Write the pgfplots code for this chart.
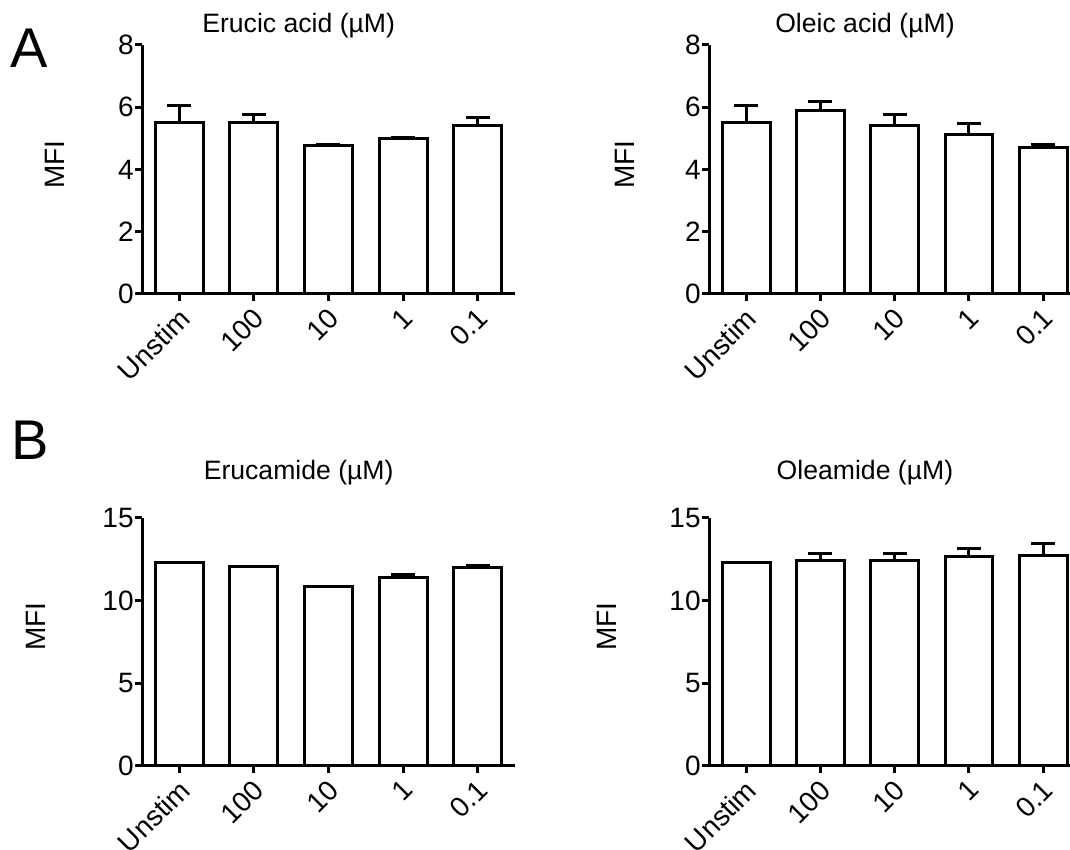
\documentclass[border=0pt]{standalone}
\usepackage{fontspec}
\setmainfont{Liberation Sans}
\usepackage{pgfplots}
\pgfplotsset{compat=1.18}

\pgfplotstableread{
x y e
0 5.52 0.52
1 5.51 0.27
2 4.77 0.03
3 5.00 0.04
4 5.42 0.26
}\erucicacid
\pgfplotstableread{
x y e
0 5.52 0.52
1 5.88 0.32
2 5.42 0.36
3 5.12 0.35
4 4.70 0.09
}\oleicacid
\pgfplotstableread{
x y e
0 12.28 0.03
1 12.02 0.03
2 10.81 0.03
3 11.37 0.17
4 11.96 0.16
}\erucamide
\pgfplotstableread{
x y e
0 12.26 0.03
1 12.43 0.40
2 12.43 0.40
3 12.63 0.48
4 12.73 0.70
}\oleamide

\pgfplotsset{
  panel/.style={
    scale only axis,
    axis x line*=bottom, axis y line*=left,
    axis line style={line width=1.5pt, -},
    every tick/.style={line width=1.5pt, black},
    tick align=outside,
    major tick length=3.5pt,
    enlargelimits=false,
    ymin=0,
    xmin=-0.5,
    xtick={0,1,2,3,4},
    xticklabels={Unstim,100,10,1,0.1},
    x tick label style={rotate=45, anchor=north east, inner sep=1pt, xshift=-1.5pt, font=\fontsize{14}{16}\selectfont},
    y tick label style={font=\fontsize{14}{16}\selectfont, inner sep=0.5pt},
    /pgf/number format/assume math mode=true,
    title style={font=\fontsize{13.3}{15}\selectfont, anchor=base},
    ylabel={MFI},
    ylabel style={font=\fontsize{14}{16}\selectfont, anchor=center},
    clip=true,
  },
  mybar/.style={
    ybar, bar width=0.645, fill=white, draw=black, line width=1.5pt,
    error bars/.cd, y dir=plus, y explicit,
    error bar style={line width=1.5pt, black},
    error mark options={rotate=90, mark size=6pt, line width=1.5pt, black},
  },
}

\begin{document}
\begin{tikzpicture}
\path[use as bounding box] (0,0) rectangle (535pt,425pt);

% Panel A left
\begin{axis}[panel, at={(71pt,278pt)}, anchor=south west,
  width=186.5pt, height=124.5pt, xmax=4.5, ymax=8, ytick={0,2,4,6,8},
  title={Erucic acid (µM)},
  title style={at={(axis description cs:0.42,1)}, yshift=0pt},
  ylabel style={at={(axis description cs:-0.233,0.52)}}]
\addplot[mybar] table[x=x, y=y, y error=e] {\erucicacid};
\end{axis}

% Panel A right
\begin{axis}[panel, at={(354.5pt,278pt)}, anchor=south west,
  width=180.5pt, height=124.5pt, xmax=4.36, ymax=8, ytick={0,2,4,6,8},
  title={Oleic acid (µM)},
  title style={at={(axis description cs:0.432,1)}, yshift=0pt},
  ylabel style={at={(axis description cs:-0.233,0.52)}}]
\addplot[mybar] table[x=x, y=y, y error=e] {\oleicacid};
\end{axis}

% Panel B left
\begin{axis}[panel, at={(71pt,42.15pt)}, anchor=south west,
  width=186.5pt, height=124pt, xmax=4.5, ymax=15, ytick={0,5,10,15},
  title={Erucamide (µM)},
  title style={at={(axis description cs:0.42,1)}, yshift=12.85pt},
  ylabel style={at={(axis description cs:-0.284,0.56)}}]
\addplot[mybar] table[x=x, y=y, y error=e] {\erucamide};
\end{axis}

% Panel B right
\begin{axis}[panel, at={(354.5pt,42.15pt)}, anchor=south west,
  width=180.5pt, height=124pt, xmax=4.36, ymax=15, ytick={0,5,10,15},
  title={Oleamide (µM)},
  title style={at={(axis description cs:0.432,1)}, yshift=12.85pt},
  ylabel style={at={(axis description cs:-0.284,0.56)}}]
\addplot[mybar] table[x=x, y=y, y error=e] {\oleamide};
\end{axis}

\node[anchor=base west, inner sep=0pt, font=\fontsize{28}{30}\selectfont] at (5pt,391pt) {A};
\node[anchor=base west, inner sep=0pt, font=\fontsize{28}{30}\selectfont] at (5.5pt,195pt) {B};
\end{tikzpicture}
\end{document}
